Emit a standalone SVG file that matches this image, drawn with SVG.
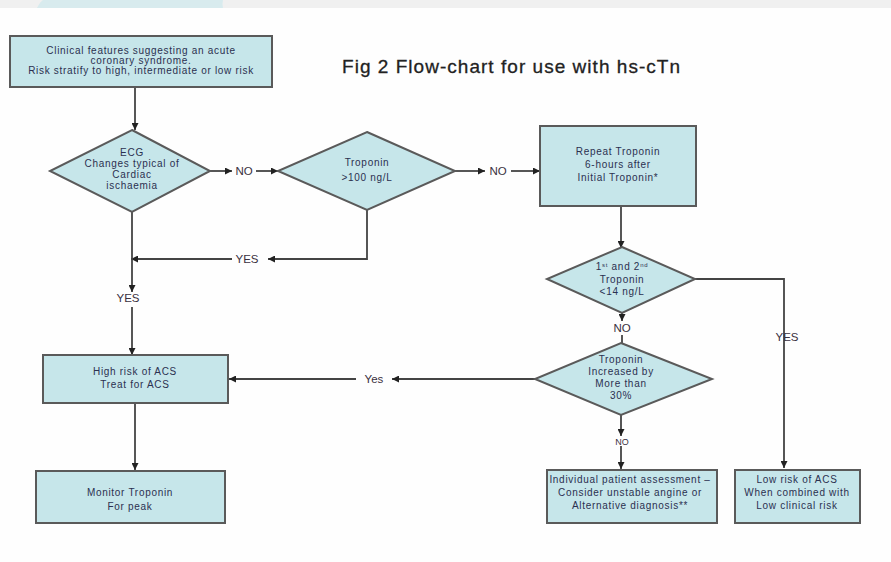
<svg xmlns="http://www.w3.org/2000/svg" width="891" height="562" viewBox="0 0 891 562">
<defs>
<marker id="ah" viewBox="0 0 10 10" refX="10" refY="5" markerWidth="7" markerHeight="7" markerUnits="userSpaceOnUse" orient="auto"><path d="M0,0 L10,5 L0,10 z" fill="#222"/></marker>
</defs>
<style>
.box{fill:#c6e6ea;stroke:#5a5a5a;stroke-width:2}
.t{font-family:"Liberation Sans",Arial,sans-serif;font-size:10px;letter-spacing:0.7px;fill:#2b3050;text-anchor:middle}
.l{font-family:"Liberation Sans",Arial,sans-serif;font-size:11.5px;fill:#3a3040;text-anchor:middle}
.c{fill:none;stroke:#444;stroke-width:1.8}
.a{marker-end:url(#ah)}
</style>
<rect width="891" height="562" fill="#fefefe"/>
<rect width="891" height="8" fill="#f0f0f0"/>
<path d="M37,8 Q40,2 43,0 L223,0 Q222,4 223,8 Z" fill="#d8ebee"/>
<text x="342" y="73" textLength="338" lengthAdjust="spacing" style="font-family:'Liberation Sans',Arial,sans-serif;font-size:19px;fill:#222;stroke:#222;stroke-width:0.3">Fig 2 Flow-chart for use with hs-cTn</text>
<g id="connectors">
<path class="c a" d="M135,88 V130"/>
<path class="c a" d="M210,171 H232"/>
<path class="c a" d="M256,171 H278"/>
<path class="c a" d="M455,171 H485"/>
<path class="c a" d="M511,171 H540"/>
<path class="c a" d="M367,210 V259 H268"/>
<path class="c a" d="M232,259 H131"/>
<path class="c a" d="M132,212 V292"/>
<path class="c a" d="M132,307 V355"/>
<path class="c a" d="M621,206 V248"/>
<path class="c a" d="M695,279 H784 V468"/>
<path class="c a" d="M622,313 V321"/>
<path class="c" d="M622,335 V345"/>
<path class="c a" d="M535,379 H392"/>
<path class="c a" d="M356,379 H229"/>
<path class="c a" d="M621,415 V436"/>
<path class="c a" d="M621,446 V469"/>
<path class="c a" d="M135,403 V470"/>
<text class="l" x="244" y="175">NO</text>
<text class="l" x="498" y="175">NO</text>
<text class="l" x="247" y="263">YES</text>
<text class="l" x="128" y="302">YES</text>
<text class="l" x="622" y="332">NO</text>
<text class="l" x="787" y="341">YES</text>
<text class="l" x="374" y="383">Yes</text>
<text class="l" x="622" y="445" style="font-size:9px">NO</text>
</g>
<g id="n1"><rect class="box" x="10" y="36" width="262" height="51"/>
<text class="t" x="141" y="54">Clinical features suggesting an acute</text>
<text class="t" x="141" y="64">coronary syndrome.</text>
<text class="t" x="141" y="74">Risk stratify to high, intermediate or low risk</text></g>
<g id="n2"><path class="box" d="M132,130 L210,171 L132,212 L50,171 Z"/>
<text class="t" x="132" y="156">ECG</text>
<text class="t" x="132" y="167">Changes typical of</text>
<text class="t" x="132" y="178">Cardiac</text>
<text class="t" x="132" y="189">ischaemia</text></g>
<g id="n3"><path class="box" d="M367,132 L455,171 L367,210 L278,171 Z"/>
<text class="t" x="367" y="166">Troponin</text>
<text class="t" x="367" y="181">&gt;100 ng/L</text></g>
<g id="n4"><rect class="box" x="540" y="126" width="156" height="80"/>
<text class="t" x="618" y="155">Repeat Troponin</text>
<text class="t" x="618" y="168">6-hours after</text>
<text class="t" x="618" y="181">Initial Troponin*</text></g>
<g id="n5"><path class="box" d="M622,247 L695,279 L622,313 L547,279 Z"/>
<text class="t" x="622" y="270">1<tspan font-size="6" dy="-3">st</tspan><tspan dy="3"> and 2</tspan><tspan font-size="6" dy="-3">nd</tspan></text>
<text class="t" x="622" y="283">Troponin</text>
<text class="t" x="622" y="295">&lt;14 ng/L</text></g>
<g id="n6"><path class="box" d="M621,343 L712,379 L621,415 L535,379 Z"/>
<text class="t" x="621" y="363">Troponin</text>
<text class="t" x="621" y="375">Increased by</text>
<text class="t" x="621" y="387">More than</text>
<text class="t" x="621" y="399">30%</text></g>
<g id="n7"><rect class="box" x="43" y="355" width="185" height="48"/>
<text class="t" x="135" y="375">High risk of ACS</text>
<text class="t" x="135" y="388">Treat for ACS</text></g>
<g id="n8"><rect class="box" x="36" y="471" width="189" height="52"/>
<text class="t" x="130" y="496">Monitor Troponin</text>
<text class="t" x="130" y="510">For peak</text></g>
<g id="n9"><rect class="box" x="547" y="470" width="170" height="53"/>
<text class="t" x="630" y="483">Individual patient assessment –</text>
<text class="t" x="630" y="496">Consider unstable angine or</text>
<text class="t" x="630" y="509">Alternative diagnosis**</text></g>
<g id="n10"><rect class="box" x="735" y="470" width="125" height="53"/>
<text class="t" x="797" y="483">Low risk of ACS</text>
<text class="t" x="797" y="496">When combined with</text>
<text class="t" x="797" y="509">Low clinical risk</text></g>
</svg>
